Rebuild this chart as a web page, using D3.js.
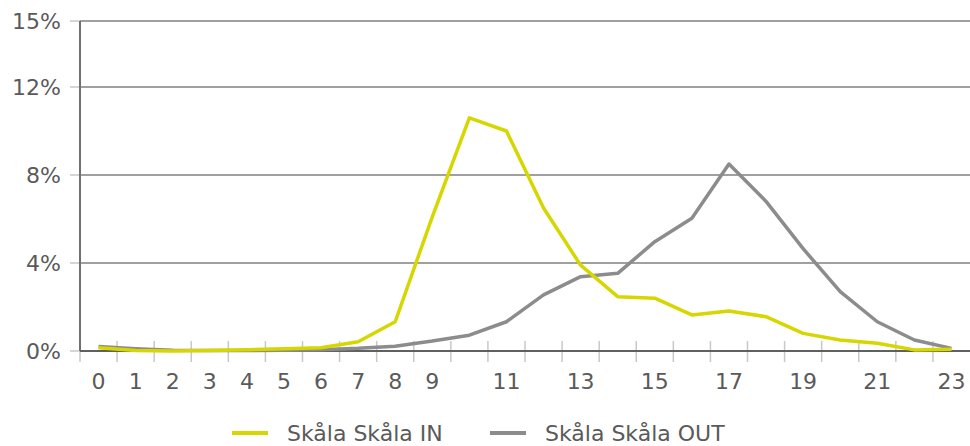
<!DOCTYPE html>
<html>
<head>
<meta charset="utf-8">
<script src="https://cdn.jsdelivr.net/npm/d3@7/dist/d3.min.js"></script>
<style>
  body { margin: 0; background: #fff; }
  svg text { font-family: "DejaVu Sans", Verdana, sans-serif; fill: #5a5a5a; }
</style>
</head>
<body>
<svg id="chart" width="970" height="446"></svg>
<script>
// hours of the day
const hours = d3.range(0, 24);
// shown hour labels (10 is skipped in the original)
const hourLabels = [0, 1, 2, 3, 4, 5, 6, 7, 8, 9, 11, 13, 15, 17, 19, 21, 23];
// share of traffic per hour, in percent
const valuesIn = [0.15, 0.02, 0.0, 0.02, 0.06, 0.1, 0.15, 0.42, 1.33, 6.1, 10.6, 10.0, 6.5, 3.9, 2.47, 2.4, 1.64, 1.82, 1.56, 0.8, 0.5, 0.35, 0.05, 0.08];
const valuesOut = [0.2, 0.1, 0.03, 0.02, 0.02, 0.03, 0.06, 0.12, 0.22, 0.45, 0.72, 1.33, 2.55, 3.38, 3.53, 4.97, 6.03, 8.5, 6.8, 4.65, 2.7, 1.33, 0.5, 0.12];
const yTicks = [0, 4, 8, 12, 15];
const yTickLabels = ["0%", "4%", "8%", "12%", "15%"];
const seriesNames = ["Skåla Skåla IN", "Skåla Skåla OUT"];
const seriesColors = ["#d6d600", "#8c8c8c"];

let svg = d3.select("#chart");
let plotLeft = 80, plotRight = 970, plotTop = 21, plotBottom = 351;

let x = d3.scaleBand()
    .domain(hours)
    .range([plotLeft, plotRight]);

let y = d3.scaleLinear()
    .domain([0, 15])
    .range([plotBottom, plotTop]);

// horizontal gridlines
svg.append("g").selectAll("line")
    .data(yTicks.slice(1))
    .join("line")
    .attr("x1", plotLeft)
    .attr("x2", plotRight)
    .attr("y1", d => y(d))
    .attr("y2", d => y(d))
    .attr("stroke", "#a0a0a0")
    .attr("stroke-width", 2);

// y tick marks + labels
svg.append("g").selectAll("line")
    .data(yTicks)
    .join("line")
    .attr("x1", plotLeft - 10)
    .attr("x2", plotLeft)
    .attr("y1", d => y(d))
    .attr("y2", d => y(d))
    .attr("stroke", "#c8c8c8")
    .attr("stroke-width", 1.5);

svg.append("g").selectAll("text")
    .data(yTicks)
    .join("text")
    .attr("x", 61)
    .attr("y", d => y(d))
    .attr("dy", "0.36em")
    .attr("text-anchor", "end")
    .style("font-size", "22px")
    .text((d, i) => yTickLabels[i]);

// x tick marks at band edges
let edges = hours.map(h => x(h)).concat([plotRight]);
svg.append("g").selectAll("line")
    .data(edges.slice(1, -1))
    .join("line")
    .attr("x1", d => d)
    .attr("x2", d => d)
    .attr("y1", plotBottom - 10)
    .attr("y2", plotBottom + 11)
    .attr("stroke", "#c8c8c8")
    .attr("stroke-width", 1.5);

svg.append("line")
    .attr("x1", plotLeft).attr("x2", plotLeft)
    .attr("y1", plotBottom).attr("y2", plotBottom + 11)
    .attr("stroke", "#c8c8c8")
    .attr("stroke-width", 1.5);

svg.append("g").selectAll("text")
    .data(hourLabels)
    .join("text")
    .attr("x", d => x(d) + x.bandwidth() / 2)
    .attr("y", 389)
    .attr("text-anchor", "middle")
    .style("font-size", "22px")
    .text(d => d);

// axes lines
svg.append("line")
    .attr("x1", plotLeft).attr("x2", plotLeft)
    .attr("y1", plotTop).attr("y2", plotBottom)
    .attr("stroke", "#707070")
    .attr("stroke-width", 2);

svg.append("line")
    .attr("x1", plotLeft).attr("x2", plotRight)
    .attr("y1", plotBottom).attr("y2", plotBottom)
    .attr("stroke", "#606060")
    .attr("stroke-width", 2);

// series lines
let line = d3.line()
    .x((d, i) => x(hours[i]) + x.bandwidth() / 2)
    .y(d => y(d));

[valuesOut, valuesIn].forEach(function (vals, k) {
    svg.append("path")
        .datum(vals)
        .attr("d", line)
        .attr("fill", "none")
        .attr("stroke", seriesColors[1 - k])
        .attr("stroke-width", 3.5)
        .attr("stroke-linejoin", "round");
});

// legend
let legendX = [232, 490];
let legend = svg.append("g").selectAll("g")
    .data(seriesNames)
    .join("g")
    .attr("transform", (d, i) => "translate(" + legendX[i] + ",433)");

legend.append("line")
    .attr("x1", 0).attr("x2", 36)
    .attr("y1", 0).attr("y2", 0)
    .attr("stroke", (d, i) => seriesColors[i])
    .attr("stroke-width", 4);

legend.append("text")
    .attr("x", 55)
    .attr("dy", "0.36em")
    .style("font-size", "22px")
    .text(d => d);
</script>
</body>
</html>
